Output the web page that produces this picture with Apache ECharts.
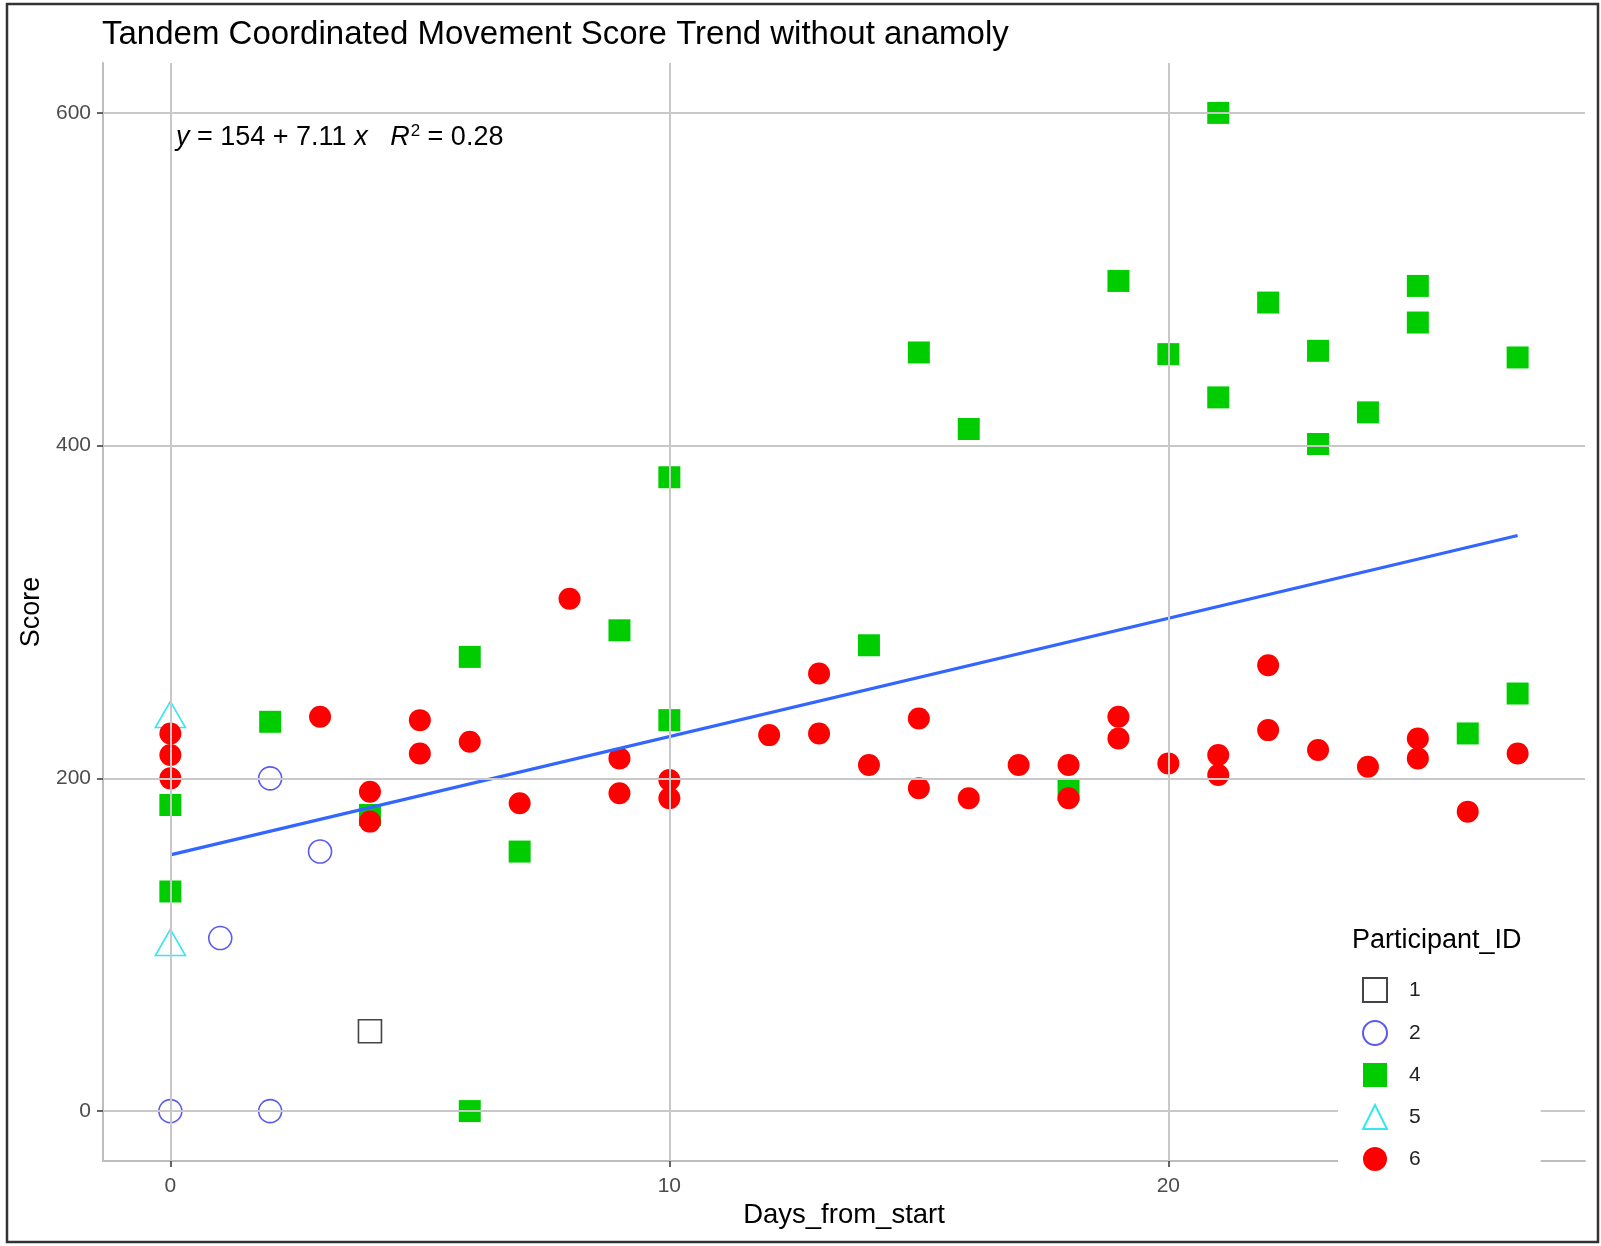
<!DOCTYPE html>
<html>
<head>
<meta charset="utf-8">
<script src="https://cdn.jsdelivr.net/npm/echarts@6/dist/echarts.min.js"></script>
<style>
html,body{margin:0;padding:0;background:#fff;}
#chart{width:1601px;height:1246px;}
</style>
</head>
<body>
<div id="chart"></div>
<script>
// ---- data ----
const days1 = [4];
const score1 = [48];

const days2 = [0, 2, 2, 3, 1];
const score2 = [0, 0, 200, 156, 104];

const days4 = [0, 0, 2, 4, 6, 6, 7, 9, 10, 10, 14, 15, 16, 18, 19, 20, 21, 21, 22, 23, 23, 24, 25, 25, 26, 27, 27];
const score4 = [184, 132, 234, 178, 273, 0, 156, 289, 381, 235, 280, 456, 410, 193, 499, 455, 600, 429, 486, 457, 401, 420, 496, 474, 227, 453, 251];

const days5 = [0, 0];
const score5 = [236, 99];

const days6 = [0, 0, 0, 3, 4, 4, 5, 5, 6, 7, 8, 9, 9, 10, 10, 12, 13, 13, 14, 15, 15, 16, 17, 18, 18, 19, 19, 20, 21, 21, 22, 22, 23, 24, 25, 25, 26, 27];
const score6 = [227, 214, 200, 237, 192, 174, 235, 215, 222, 185, 308, 212, 191, 199, 188, 226, 263, 227, 208, 236, 194, 188, 208, 208, 188, 237, 224, 209, 214, 202, 268, 229, 217, 207, 224, 212, 180, 215];

const trendDays = [0, 27];
const trendScore = [154, 346];

const participants = ['1', '2', '4', '5', '6'];
const xTicks = [0, 10, 20];
const yTicks = [0, 200, 400, 600];

const titleText = 'Tandem Coordinated Movement Score Trend without anamoly';
const xName = 'Days_from_start';
const yName = 'Score';
const legendTitle = 'Participant_ID';

// ---- build ----
const zip = (xs, ys) => xs.map((x, i) => [x, ys[i]]);
const FONT = 'Liberation Sans, Arial, sans-serif';
const GRID_COLOR = '#c8c8c8';

const chart = echarts.init(document.getElementById('chart'), null, {renderer: 'canvas'});

const option = {
  animation: false,
  backgroundColor: '#ffffff',
  textStyle: {fontFamily: FONT},
  title: {
    text: titleText,
    left: 102,
    top: 18,
    padding: 0,
    textStyle: {fontSize: 33, fontWeight: 'normal', color: '#000', fontFamily: FONT, lineHeight: 33}
  },
  grid: {left: 103, right: 16, top: 63, bottom: 85, containLabel: false},
  xAxis: {
    type: 'value',
    min: -1.35,
    max: 28.35,
    splitLine: {show: false},
    axisLine: {show: true, onZero: false, lineStyle: {color: '#bdbdbd', width: 2}},
    axisTick: {show: true, customValues: xTicks, length: 6, lineStyle: {color: '#333', width: 1.5}},
    axisLabel: {customValues: xTicks, fontSize: 21, color: '#4d4d4d', margin: 15, fontFamily: FONT},
    name: xName,
    nameLocation: 'middle',
    nameGap: 40,
    nameTextStyle: {fontSize: 27.5, color: '#000', fontFamily: FONT}
  },
  yAxis: {
    type: 'value',
    min: -30,
    max: 630,
    splitLine: {show: false},
    axisLine: {show: true, onZero: false, lineStyle: {color: '#bdbdbd', width: 2}},
    axisTick: {show: true, customValues: yTicks, length: 6, lineStyle: {color: '#333', width: 1.5}},
    axisLabel: {customValues: yTicks, fontSize: 21, color: '#4d4d4d', margin: 12, fontFamily: FONT},
    name: yName,
    nameLocation: 'middle',
    nameGap: 55,
    nameRotate: 90,
    nameTextStyle: {fontSize: 27, color: '#000', fontFamily: FONT}
  },
  legend: {
    data: participants,
    orient: 'vertical',
    left: 1338,
    top: 905,
    padding: [72, 120, 20, 24],
    backgroundColor: '#ffffff',
    itemWidth: 24,
    itemHeight: 24,
    itemGap: 17,
    textStyle: {fontSize: 21, color: '#222', fontFamily: FONT, padding: [0, 0, 0, 17]},
    selectedMode: false,
    z: 50
  },
  graphic: [
    {
      type: 'text',
      left: 1352,
      top: 927,
      z: 100,
      style: {text: legendTitle, fontSize: 27, fill: '#000', fontFamily: FONT}
    },
    {
      type: 'text',
      left: 176,
      top: 123,
      z: 100,
      style: {
        text: '{i|y} = 154 + 7.11 {i|x}   {i|R}{s|2} = 0.28',
        fontSize: 27,
        fill: '#000',
        fontFamily: FONT,
        rich: {
          i: {fontStyle: 'italic', fontSize: 27, fontFamily: FONT},
          s: {fontSize: 17, verticalAlign: 'top', padding: [0, 0, 12, 1], fontFamily: FONT}
        }
      }
    },
    {
      type: 'rect',
      shape: {x: 7, y: 4, width: 1591, height: 1238},
      style: {fill: 'none', stroke: '#333', lineWidth: 2.5},
      z: 100,
      silent: true
    }
  ],
  series: [
    {
      name: 'grid',
      type: 'line',
      data: [],
      z: 1,
      silent: true,
      markLine: {
        silent: true,
        symbol: ['none', 'none'],
        label: {show: false},
        lineStyle: {color: GRID_COLOR, width: 2, type: 'solid'},
        data: [
          ...yTicks.map(v => ({yAxis: v})),
          ...xTicks.map(v => ({xAxis: v}))
        ]
      }
    },
    {
      name: '1',
      type: 'scatter',
      data: zip(days1, score1),
      symbol: 'rect',
      symbolSize: 23,
      itemStyle: {color: 'rgba(0,0,0,0)', borderColor: '#444', borderWidth: 1.6, opacity: 1},
      z: 3
    },
    {
      name: '2',
      type: 'scatter',
      data: zip(days2, score2),
      symbol: 'circle',
      symbolSize: 23,
      itemStyle: {color: 'rgba(0,0,0,0)', borderColor: '#5a5af0', borderWidth: 1.6, opacity: 1},
      z: 3
    },
    {
      name: '4',
      type: 'scatter',
      data: zip(days4, score4),
      symbol: 'rect',
      symbolSize: 22,
      itemStyle: {color: '#00CD00', opacity: 1},
      z: 3
    },
    {
      name: '5',
      type: 'scatter',
      data: zip(days5, score5),
      symbol: 'triangle',
      symbolSize: [30, 26],
      symbolOffset: [0, -4],
      itemStyle: {color: 'rgba(0,0,0,0)', borderColor: '#33e8ee', borderWidth: 1.6, opacity: 1},
      z: 3
    },
    {
      name: '6',
      type: 'scatter',
      data: zip(days6, score6),
      symbol: 'circle',
      symbolSize: 22,
      itemStyle: {color: '#ff0000', opacity: 1},
      z: 3
    },
    {
      name: 'trend',
      type: 'line',
      data: zip(trendDays, trendScore),
      symbol: 'none',
      lineStyle: {color: '#3366FF', width: 3.2},
      z: 4,
      silent: true
    }
  ]
};

chart.setOption(option);
</script>
</body>
</html>
